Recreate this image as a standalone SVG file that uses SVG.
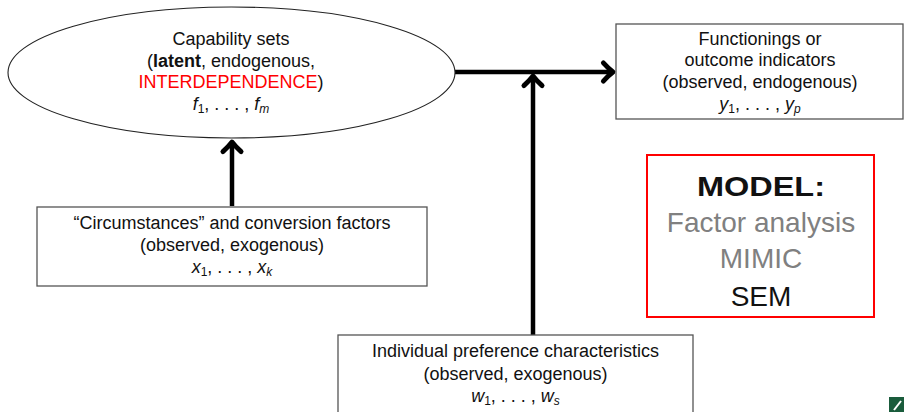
<svg xmlns="http://www.w3.org/2000/svg" width="904" height="412" viewBox="0 0 904 412">
<defs>
<style>
text{font-family:"Liberation Sans","DejaVu Sans",sans-serif;font-size:18px;fill:#111;text-anchor:middle}
.m{font-style:italic}
.s{font-size:12px}
.box{fill:#fff;stroke:#555;stroke-width:1.3}
.conn{stroke:#000;stroke-width:4.5;fill:none}
.red{fill:#ff0000}
.gray{fill:#808080;font-size:28px}
.big{font-size:28px}
</style>
<marker id="ah" markerUnits="userSpaceOnUse" markerWidth="30" markerHeight="30" viewBox="-14 -14 28 28" refX="0" refY="0" orient="auto">
<path d="M -9 -8.5 Q -4 -3 0 0 Q -4 3 -9 8.5" fill="none" stroke="#000" stroke-width="4.5" stroke-linecap="round" stroke-linejoin="round"/>
</marker>
</defs>
<rect width="904" height="412" fill="#fff"/>
<g id="connectors">
<line class="conn" x1="232" y1="206" x2="232" y2="142" marker-end="url(#ah)"/>
<line class="conn" x1="455" y1="72" x2="613" y2="72" marker-end="url(#ah)"/>
<line class="conn" x1="533" y1="336" x2="533" y2="76" marker-end="url(#ah)"/>
</g>
<g id="capability">
<ellipse cx="231.5" cy="72.5" rx="223.5" ry="65.5" fill="none" stroke="#222" stroke-width="1.1"/>
<text x="231" y="45">Capability sets</text>
<text x="231" y="67">(<tspan font-weight="bold">latent</tspan>, endogenous,</text>
<text x="231" y="88"><tspan class="red">INTERDEPENDENCE</tspan>)</text>
<text x="231" y="110"><tspan class="m">f</tspan><tspan class="s" dy="3">1</tspan><tspan dy="-3">, . . . , </tspan><tspan class="m">f</tspan><tspan class="s m" dy="3">m</tspan></text>
</g>
<g id="functionings">
<rect class="box" x="616" y="24" width="287" height="95"/>
<text x="760" y="45">Functionings or</text>
<text x="760" y="66">outcome indicators</text>
<text x="760" y="88">(observed, endogenous)</text>
<text x="760" y="110"><tspan class="m">y</tspan><tspan class="s" dy="3">1</tspan><tspan dy="-3">, . . . , </tspan><tspan class="m">y</tspan><tspan class="s m" dy="3">p</tspan></text>
</g>
<g id="circumstances">
<rect class="box" x="37" y="207" width="390" height="79"/>
<text x="232" y="229">“Circumstances” and conversion factors</text>
<text x="232" y="251">(observed, exogenous)</text>
<text x="232" y="273"><tspan class="m">x</tspan><tspan class="s" dy="3">1</tspan><tspan dy="-3">, . . . , </tspan><tspan class="m">x</tspan><tspan class="s m" dy="3">k</tspan></text>
</g>
<g id="preference">
<rect class="box" x="338" y="335" width="355" height="90"/>
<text x="515.5" y="357">Individual preference characteristics</text>
<text x="515.5" y="380">(observed, exogenous)</text>
<text x="515.5" y="402"><tspan class="m">w</tspan><tspan class="s" dy="3">1</tspan><tspan dy="-3">, . . . , </tspan><tspan class="m">w</tspan><tspan class="s m" dy="3">s</tspan></text>
</g>
<g id="model">
<rect x="647" y="155" width="227" height="162" fill="#fff" stroke="#ff0000" stroke-width="2"/>
<text x="761" y="196" class="big" font-weight="bold" textLength="128" lengthAdjust="spacingAndGlyphs">MODEL:</text>
<text x="761" y="232" class="gray">Factor analysis</text>
<text x="761" y="268" class="gray">MIMIC</text>
<text x="761" y="306" class="big">SEM</text>
</g>
<g id="logo">
<rect x="889" y="397" width="15" height="15" fill="#1a5c3c"/>
<path d="M 894 410 L 901 401" stroke="#fff" stroke-width="2"/>
</g>
</svg>
